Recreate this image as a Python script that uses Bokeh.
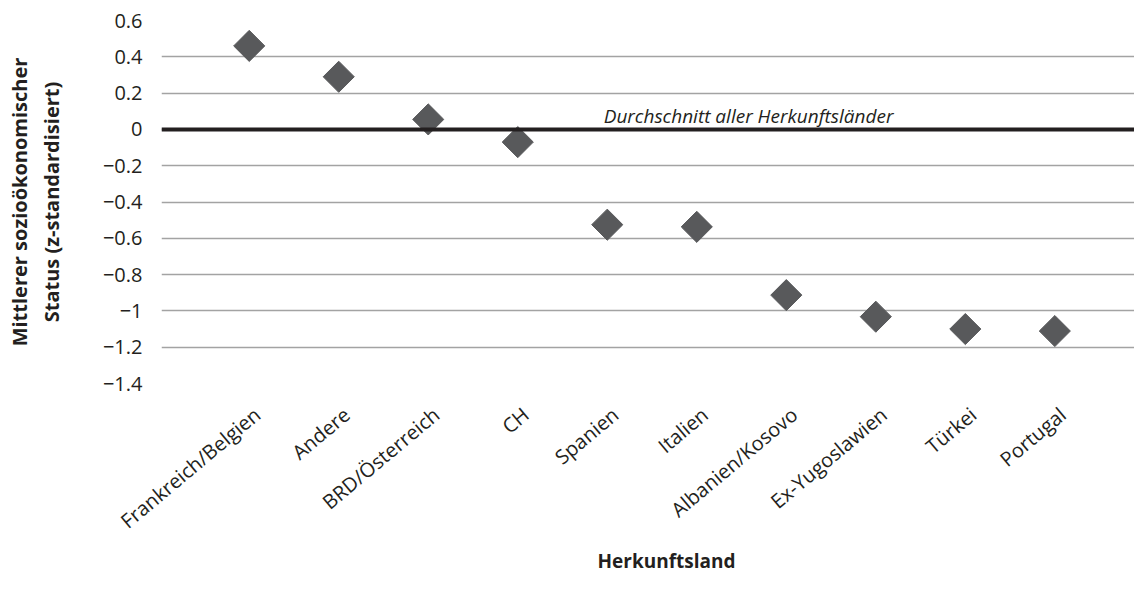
from math import pi
from bokeh.plotting import figure
from bokeh.models import Range1d, FixedTicker, Label, Span, ColumnDataSource, Title
from bokeh.embed import file_html
from bokeh.resources import INLINE

countries = ["Frankreich/Belgien", "Andere", "BRD/Österreich", "CH", "Spanien",
             "Italien", "Albanien/Kosovo", "Ex-Yugoslawien", "Türkei", "Portugal"]
status = [0.46, 0.29, 0.055, -0.07, -0.525, -0.537, -0.913, -1.032, -1.10, -1.111]
y_ticks = [0.6, 0.4, 0.2, 0, -0.2, -0.4, -0.6, -0.8, -1, -1.2, -1.4]
y_tick_labels = ["0.6", "0.4", "0.2", "0", "\u22120.2", "\u22120.4", "\u22120.6",
                 "\u22120.8", "\u22121", "\u22121.2", "\u22121.4"]
avg_label = "Durchschnitt aller Herkunftsländer"
x_title = "Herkunftsland"
y_title = "Mittlerer sozioökonomischer\nStatus (z-standardisiert)"

xs = list(range(1, len(countries) + 1))
src = ColumnDataSource(dict(x=xs, y=status, name=countries))

FONT = "Open Sans"
TXT = "#231f20"
LABEL_SHIFT = 0.09  # small horizontal shift of the rotated category labels

p = figure(width=1134, height=599, output_backend="svg", toolbar_location=None,
           x_range=Range1d(0.02, 10.89), y_range=Range1d(-1.4, 0.6),
           min_border_left=161, min_border_right=0, min_border_top=20,
           min_border_bottom=216)
p.outline_line_color = None
p.background_fill_color = "white"
p.border_fill_color = "white"

# grid
p.xgrid.grid_line_color = None
p.ygrid.ticker = FixedTicker(ticks=y_ticks)
p.ygrid.grid_line_color = "#a3a3a3"
p.ygrid.grid_line_width = 1.5

# zero line
p.add_layout(Span(location=0, dimension="width", line_color=TXT, line_width=4))

# markers
p.scatter("x", "y", source=src, marker="square", size=22, angle=pi / 4,
          fill_color="#58595b", line_color="#58595b")

# y axis
ya = p.yaxis[0]
ya.ticker = FixedTicker(ticks=y_ticks)
ya.major_label_overrides = {t: l for t, l in zip(y_ticks, y_tick_labels)}
ya.axis_line_color = None
ya.major_tick_line_color = None
ya.minor_tick_line_color = None
ya.major_label_text_font = FONT
ya.major_label_text_font_size = "20px"
ya.major_label_text_color = TXT
ya.major_label_standoff = 13
ya.axis_label = y_title
ya.axis_label_text_font = FONT
ya.axis_label_text_font_style = "bold"
ya.axis_label_text_font_size = "20px"
ya.axis_label_text_color = TXT
ya.axis_label_standoff = 35

# x axis
tick_pos = [x + LABEL_SHIFT for x in xs]
xa = p.xaxis[0]
xa.ticker = FixedTicker(ticks=tick_pos)
xa.major_label_overrides = {t: c for t, c in zip(tick_pos, countries)}
xa.major_label_orientation = 40 * pi / 180
xa.axis_line_color = None
xa.major_tick_line_color = None
xa.minor_tick_line_color = None
xa.major_label_text_font = FONT
xa.major_label_text_font_size = "20px"
xa.major_label_text_color = TXT
xa.major_label_standoff = 22

# x title below the axis
p.add_layout(Title(text=x_title, text_font=FONT, text_font_style="bold",
                   text_font_size="19px", text_color=TXT, align="left",
                   offset=436, standoff=0, vertical_align="top"), "below")

# average annotation
p.add_layout(Label(x=4.96, y=0.075, text=avg_label, text_font=FONT,
                   text_font_style="italic", text_font_size="19px",
                   text_color=TXT, text_align="left", text_baseline="alphabetic"))

open("out.html", "w").write(file_html(p, INLINE))
